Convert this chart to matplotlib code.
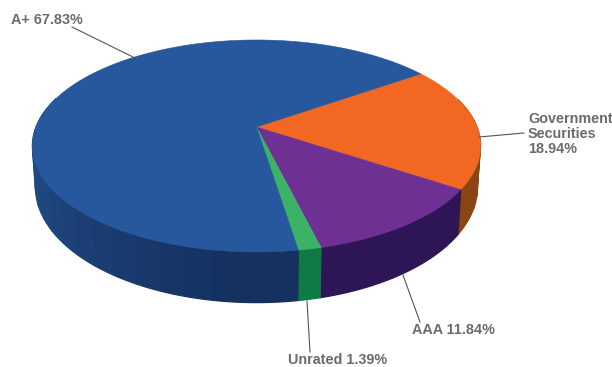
import numpy as np
import matplotlib
matplotlib.use("Agg")
import matplotlib.pyplot as plt
from matplotlib.patches import Polygon

# Data, clockwise from the A+/Government boundary
categories = ["Government Securities", "AAA", "Unrated", "A+"]
values = [18.94, 11.84, 1.39, 67.83]
top_colors = ["#F26722", "#6F3093", "#3BB266", "#27579C"]
side_colors = ["#8A4513", "#2E1555", "#0F7A45", "#1B3A70"]
labels = ["Government\nSecurities\n18.94%", "AAA 11.84%", "Unrated 1.39%", "A+ 67.83%"]
label_pos = [(528, 134), (412, 329.5), (288, 359.5), (11, 19.5)]
leaders = [((479, 137), (524, 133)), ((403, 275), (420, 322)),
           ((307, 301), (310, 352)), ((135, 58), (72, 27))]

START_DEG = 34.8
K = 0.179
TOP = dict(cx=256.5, cy=127, rx=220.5, ry=102.6)
BOT = dict(cx=256.5, cy=166.2, rx=217.5, ry=112.0)


def project(theta, g):
    u, v = np.cos(theta), np.sin(theta)
    d = 1 + K * v
    return g["cx"] + g["rx"] * u / d, g["cy"] - g["ry"] * v / d


def blue_side(theta):
    # side of the large slice darkens from the left edge to the near point
    t = np.clip((np.degrees(theta) % 360 - 180) / 85, 0, 1)
    a = np.array(matplotlib.colors.to_rgb("#22508F"))
    b = np.array(matplotlib.colors.to_rgb("#15315F"))
    return tuple(a + (b - a) * t)


fig = plt.figure(figsize=(6.12, 3.67), dpi=100)
ax = fig.add_axes([0, 0, 1, 1])
ax.set_xlim(0, 612)
ax.set_ylim(367, 0)
ax.axis("off")

edges = START_DEG - np.cumsum([0] + values) * 3.6
facets = []
for i in range(len(values)):
    a0, a1 = np.radians(edges[i]), np.radians(edges[i + 1])
    n = max(1, int(abs(a1 - a0) / np.radians(6)))
    th = np.linspace(a0, a1, n + 1)
    for p, q in zip(th[:-1], th[1:]):
        mid = (p + q) / 2
        if np.sin(mid) > 0.25:
            continue
        col = blue_side(mid) if categories[i] == "A+" else side_colors[i]
        fine = np.linspace(p, q, 12)
        tx, ty = project(fine, TOP)
        bx, by = project(fine[::-1], BOT)
        pts = list(zip(tx, ty)) + list(zip(bx, by))
        facets.append((np.sin(mid), pts, col))
for _, pts, col in sorted(facets, key=lambda f: -f[0]):
    ax.add_patch(Polygon(pts, closed=True, facecolor=col, edgecolor=col, lw=0.9, zorder=2))

for i in range(len(values)):
    th = np.linspace(np.radians(edges[i]), np.radians(edges[i + 1]), 200)
    x, y = project(th, TOP)
    pts = [(TOP["cx"], TOP["cy"])] + list(zip(x, y))
    ax.add_patch(Polygon(pts, closed=True, facecolor=top_colors[i],
                         edgecolor=top_colors[i], lw=0.4, zorder=3))

for (p0, p1) in leaders:
    ax.plot([p0[0], p1[0]], [p0[1], p1[1]], color="#555555", lw=0.8, zorder=4)

for text, (x, y) in zip(labels, label_pos):
    ax.text(x, y, text, family=["Liberation Sans", "DejaVu Sans"], weight="bold",
            fontsize=10.4, color="#6B6B6B", ha="left", va="center", linespacing=1.08)

fig.savefig("out.png", dpi=100)
